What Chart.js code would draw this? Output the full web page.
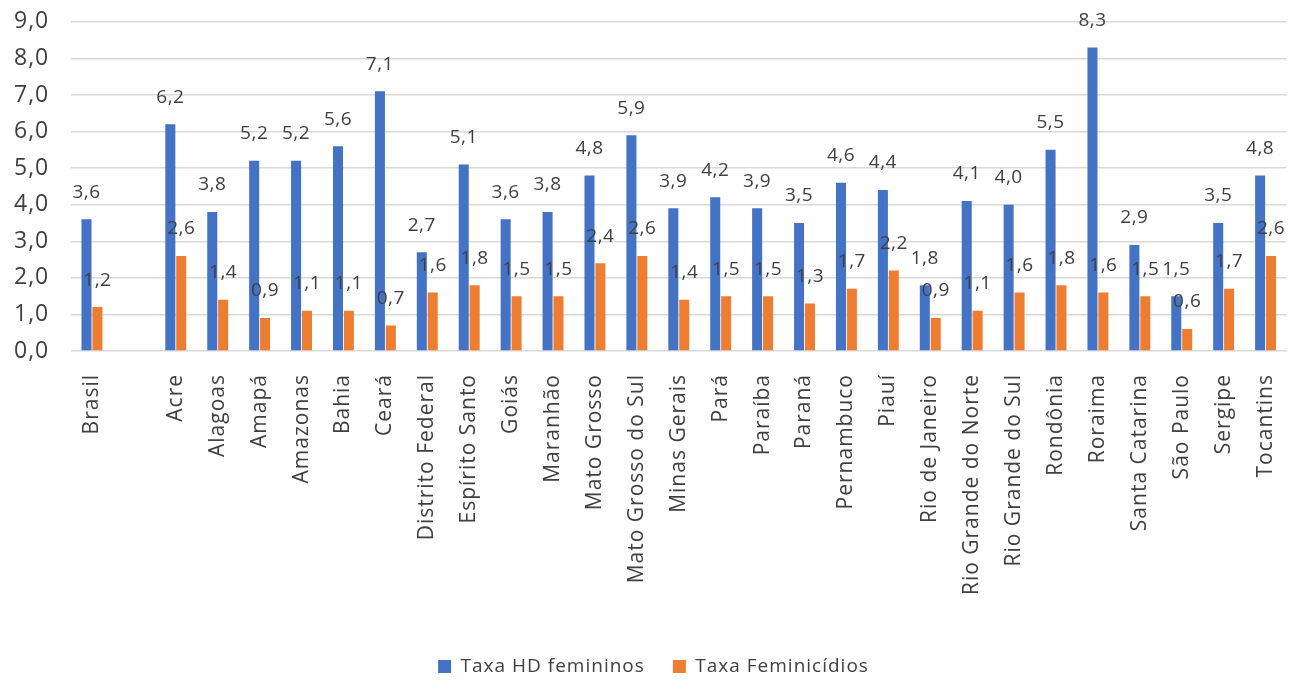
<!DOCTYPE html>
<html>
<head>
<meta charset="utf-8">
<script src="https://cdn.jsdelivr.net/npm/chart.js@4/dist/chart.umd.min.js"></script>
<style>
  html, body { margin: 0; padding: 0; background: #fff; }
  #wrap { width: 1306px; height: 680px; position: relative; }
</style>
</head>
<body>
<div id="wrap"><canvas id="chart"></canvas></div>
<script>
// Categories (empty slot after Brasil, as in the original)
const estados = ['Brasil', '', 'Acre', 'Alagoas', 'Amapá', 'Amazonas', 'Bahia', 'Ceará',
  'Distrito Federal', 'Espírito Santo', 'Goiás', 'Maranhão', 'Mato Grosso',
  'Mato Grosso do Sul', 'Minas Gerais', 'Pará', 'Paraíba', 'Paraná', 'Pernambuco',
  'Piauí', 'Rio de Janeiro', 'Rio Grande do Norte', 'Rio Grande do Sul', 'Rondônia',
  'Roraima', 'Santa Catarina', 'São Paulo', 'Sergipe', 'Tocantins'];

const taxaHD = [3.6, null, 6.2, 3.8, 5.2, 5.2, 5.6, 7.1, 2.7, 5.1, 3.6, 3.8, 4.8, 5.9,
  3.9, 4.2, 3.9, 3.5, 4.6, 4.4, 1.8, 4.1, 4.0, 5.5, 8.3, 2.9, 1.5, 3.5, 4.8];

const taxaFem = [1.2, null, 2.6, 1.4, 0.9, 1.1, 1.1, 0.7, 1.6, 1.8, 1.5, 1.5, 2.4, 2.6,
  1.4, 1.5, 1.5, 1.3, 1.7, 2.2, 0.9, 1.1, 1.6, 1.8, 1.6, 1.5, 0.6, 1.7, 2.6];

const yTicks = [0, 1, 2, 3, 4, 5, 6, 7, 8, 9];

const fmt = v => v.toFixed(1).replace('.', ',');
const FONT = '"Open Sans", "Noto Sans", sans-serif';
const TEXT = '#404040';

// wider letter spacing, closer to the office-style rendering
const spacing = {
  id: 'spacing',
  beforeLayout(chart) { chart.ctx.letterSpacing = '1px'; },
  beforeDraw(chart) { chart.ctx.letterSpacing = '1px'; }
};

// value labels above each bar
const barLabels = {
  id: 'barLabels',
  afterDatasetsDraw(chart) {
    const ctx = chart.ctx;
    ctx.save();
    ctx.letterSpacing = '0.5px';
    ctx.font = '19px ' + FONT;
    ctx.fillStyle = TEXT;
    ctx.textAlign = 'center';
    ctx.textBaseline = 'middle';
    chart.data.datasets.forEach((ds, i) => {
      const meta = chart.getDatasetMeta(i);
      meta.data.forEach((bar, j) => {
        const v = ds.data[j];
        if (v == null) return;
        ctx.fillText(fmt(v), bar.x, bar.y - 27);
      });
    });
    ctx.restore();
  }
};

new Chart(document.getElementById('chart'), {
  type: 'bar',
  data: {
    labels: estados,
    datasets: [
      {
        label: 'Taxa HD femininos',
        data: taxaHD,
        backgroundColor: '#4472C4',
        categoryPercentage: 0.52,
        barPercentage: 0.92
      },
      {
        label: 'Taxa Feminicídios',
        data: taxaFem,
        backgroundColor: '#ED7D31',
        categoryPercentage: 0.52,
        barPercentage: 0.92
      }
    ]
  },
  options: {
    responsive: true,
    maintainAspectRatio: false,
    animation: false,
    layout: { padding: { top: 0, right: 13, left: 14, bottom: -6 } },
    plugins: {
      legend: {
        position: 'bottom',
        labels: {
          font: { family: FONT, size: 19 },
          color: TEXT,
          boxWidth: 13,
          boxHeight: 13,
          padding: 28
        }
      },
      tooltip: { enabled: false }
    },
    scales: {
      x: {
        grid: { display: false },
        border: { display: false },
        ticks: {
          autoSkip: false,
          maxRotation: 90,
          minRotation: 90,
          padding: 15,
          font: { family: FONT, size: 21 },
          color: TEXT
        },
        afterFit(scale) { scale.height = 278; }
      },
      y: {
        min: 0,
        max: 9,
        afterBuildTicks(scale) { scale.ticks = yTicks.map(v => ({ value: v })); },
        afterFit(scale) { scale.width = 57; },
        grid: { color: '#d9d9d9', lineWidth: 1.5, drawTicks: false },
        border: { display: false },
        ticks: {
          padding: 8,
          crossAlign: 'far',
          font: { family: FONT, size: 23 },
          color: TEXT,
          callback: v => fmt(v)
        }
      }
    }
  },
  plugins: [spacing, barLabels]
});
</script>
</body>
</html>
